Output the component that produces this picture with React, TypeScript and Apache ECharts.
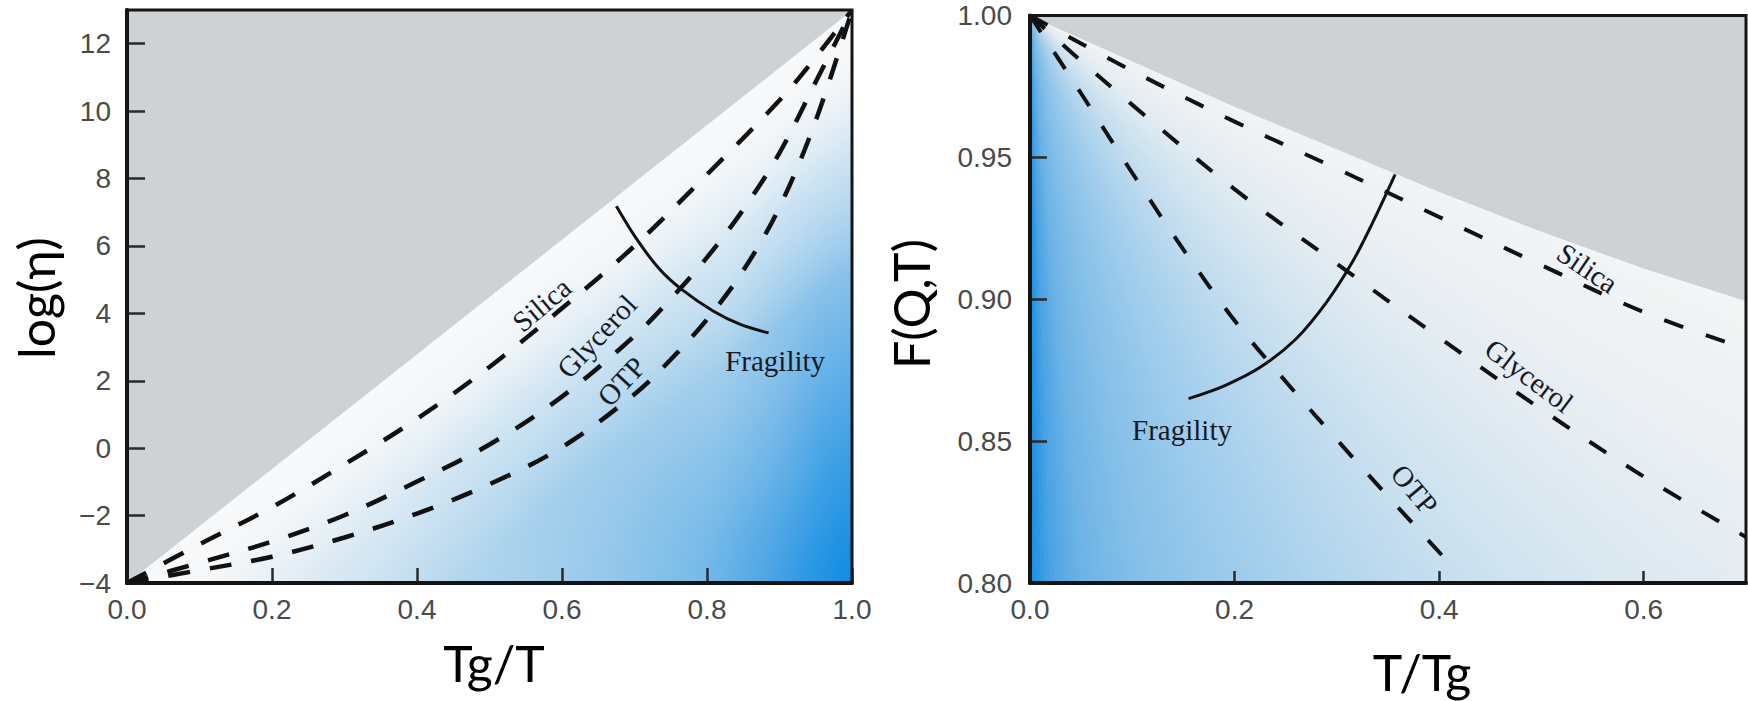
import React, { useEffect, useRef } from "react";
import * as echarts from "echarts";

// ---------- Left panel: log(eta) vs Tg/T ----------
const leftXTicks = [0, 0.2, 0.4, 0.6, 0.8, 1.0];
const leftYTicks = [-4, -2, 0, 2, 4, 6, 8, 10, 12];
const leftYMax = 13;

const leftSilica = [
  [0, -4], [0.1, -2.85], [0.2, -1.75], [0.3, -0.48], [0.4, 0.87], [0.5, 2.41], [0.6, 4.15],
  [0.7, 6.0], [0.8, 8.12], [0.9, 10.32], [0.95, 11.6], [1, 13],
];
const leftGlycerol = [
  [0, -4], [0.1, -3.4], [0.2, -2.77], [0.3, -1.99], [0.4, -0.99], [0.5, 0.11], [0.6, 1.53],
  [0.7, 3.33], [0.75, 4.43], [0.8, 5.66], [0.85, 7.08], [0.9, 8.76], [0.95, 10.87], [1, 13],
];
const leftOTP = [
  [0, -4], [0.1, -3.62], [0.2, -3.22], [0.3, -2.65], [0.4, -1.94], [0.5, -1.07], [0.6, 0.03],
  [0.7, 1.6], [0.75, 2.63], [0.8, 3.82], [0.85, 5.27], [0.9, 7.15], [0.95, 9.72], [1, 13],
];
const leftFragility = [
  [0.675, 7.18], [0.705, 6.14], [0.735, 5.3], [0.765, 4.71], [0.809, 4.06], [0.846, 3.67], [0.885, 3.42],
];
// Arrhenius limit: edge of the grey region
const leftBoundary = [[0, -4], [1, 13]];

const leftAnnotations = [
  { text: "Silica", x: 0.572, y: 4.26, angle: 40 },
  { text: "Glycerol", x: 0.648, y: 3.32, angle: 47 },
  { text: "OTP", x: 0.682, y: 1.98, angle: 47 },
  { text: "Fragility", x: 0.894, y: 2.6, angle: 0 },
];

// ---------- Right panel: F(Q,T) vs T/Tg ----------
const rightXTicks = [0, 0.2, 0.4, 0.6];
const rightXMax = 0.7;
const rightYTicks = [0.8, 0.85, 0.9, 0.95, 1.0];

const rightSilica = [
  [0, 1], [0.1, 0.9805], [0.2, 0.9626], [0.3, 0.946], [0.4, 0.929], [0.5, 0.912], [0.6, 0.8955], [0.7, 0.8825],
];
const rightGlycerol = [
  [0, 1], [0.05, 0.984], [0.1, 0.9685], [0.2, 0.9388], [0.3, 0.9125], [0.4, 0.8865], [0.5, 0.8612],
  [0.6, 0.8375], [0.7, 0.8162],
];
const rightOTP = [
  [0, 1], [0.05, 0.9725], [0.1, 0.9445], [0.15, 0.9175], [0.2, 0.8925], [0.25, 0.871], [0.3, 0.8505],
  [0.35, 0.8305], [0.415, 0.805],
];
const rightFragility = [
  [0.155, 0.865], [0.19, 0.8695], [0.225, 0.876], [0.26, 0.886], [0.29, 0.899], [0.315, 0.913],
  [0.335, 0.927], [0.357, 0.944],
];
const rightBoundary = [
  [0, 1], [0.1, 0.984], [0.2, 0.968], [0.3, 0.953], [0.4, 0.938], [0.5, 0.924], [0.6, 0.911], [0.7, 0.8995],
];

const rightAnnotations = [
  { text: "Silica", x: 0.545, y: 0.911, angle: -34 },
  { text: "Glycerol", x: 0.488, y: 0.873, angle: -37 },
  { text: "OTP", x: 0.376, y: 0.833, angle: -50 },
  { text: "Fragility", x: 0.1486, y: 0.854, angle: 0 },
];

// ---------- styling ----------
const W = 1748;
const H = 701;
const GREY = "#ced2d5";
const tickFont = { fontFamily: '"Liberation Sans", Arial, sans-serif', fontSize: 28, color: "#4a4a4a" };
const annFont = '29px "Liberation Serif", "Times New Roman", serif';
const titleFont = '50px Lato, "Open Sans", sans-serif';

const fanStops = [
  [0, 246, 246, 247], [21.6, 243, 245, 246], [30.7, 236, 240, 243], [38.4, 228, 236, 242],
  [42.7, 220, 233, 241], [47.9, 210, 228, 240], [54.1, 197, 222, 239], [61.6, 178, 213, 238],
  [70.2, 156, 203, 236], [79.8, 130, 190, 232], [84.8, 108, 179, 230], [87.9, 75, 163, 228],
  [90, 22, 142, 226],
];
function fanColor(d: number) {
  for (let i = 0; i < fanStops.length - 1; i++) {
    const a = fanStops[i], b = fanStops[i + 1];
    if (d >= a[0] && d <= b[0]) {
      const t = (d - a[0]) / (b[0] - a[0]);
      const c = [1, 2, 3].map((k) => Math.round(a[k] + (b[k] - a[k]) * t));
      return `rgb(${c[0]},${c[1]},${c[2]})`;
    }
  }
  const l = fanStops[fanStops.length - 1];
  return `rgb(${l[1]},${l[2]},${l[3]})`;
}

function lineSeries(name: string, data: number[][], gi: number, dashed: boolean, width: number, dash: number[]) {
  return {
    name,
    type: "line",
    xAxisIndex: gi,
    yAxisIndex: gi,
    data,
    showSymbol: false,
    symbol: "none",
    smooth: 0.35,
    z: 3,
    silent: true,
    lineStyle: { color: "#111", width, type: dashed ? dash : "solid", cap: "butt" },
  };
}

function axisCommon(gi: number, tickLen: number, margin: number, fmt: (v: number) => string) {
  return {
    gridIndex: gi,
    type: "value",
    axisLine: { show: true, onZero: false, lineStyle: { color: "#111", width: 4 } },
    axisTick: { show: true, inside: true, length: tickLen, lineStyle: { color: "#2a2a2a", width: 2.5 } },
    axisLabel: { ...tickFont, margin, formatter: fmt },
    splitLine: { show: false },
  };
}

function buildOption() {
  const minus = (v: number) => (v < 0 ? "\u2212" + Math.abs(v) : String(v));
  return {
    animation: false,
    backgroundColor: "#ffffff",
    grid: [
      { left: 127, top: 10, width: 725, height: 573, show: true, borderColor: "#151515", borderWidth: 3, backgroundColor: "transparent", z: 10 },
      { left: 1030, top: 15.5, width: 716, height: 567.5, show: true, borderColor: "#151515", borderWidth: 3, backgroundColor: "transparent", z: 10 },
    ],
    xAxis: [
      {
        ...axisCommon(0, 15, 12, (v: number) => v.toFixed(1)),
        min: leftXTicks[0],
        max: leftXTicks[leftXTicks.length - 1],
        interval: leftXTicks[1] - leftXTicks[0],
      },
      {
        ...axisCommon(1, 12, 12, (v: number) => v.toFixed(1)),
        min: rightXTicks[0],
        max: rightXMax,
        interval: rightXTicks[1] - rightXTicks[0],
        axisLabel: { ...tickFont, margin: 12, formatter: (v: number) => v.toFixed(1), showMaxLabel: false },
      },
    ],
    yAxis: [
      {
        ...axisCommon(0, 18, 16, minus),
        min: leftYTicks[0],
        max: leftYMax,
        interval: leftYTicks[1] - leftYTicks[0],
        axisLabel: { ...tickFont, margin: 16, formatter: minus, showMaxLabel: false },
      },
      {
        ...axisCommon(1, 17, 18, (v: number) => v.toFixed(2)),
        min: rightYTicks[0],
        max: rightYTicks[rightYTicks.length - 1],
        interval: 0.05,
      },
    ],
    series: [
      lineSeries("Silica", leftSilica, 0, true, 4.5, [22, 20]),
      lineSeries("Glycerol", leftGlycerol, 0, true, 4.5, [22, 20]),
      lineSeries("OTP", leftOTP, 0, true, 4.5, [22, 20]),
      lineSeries("Fragility", leftFragility, 0, false, 3, []),
      lineSeries("Silica ", rightSilica, 1, true, 4, [20, 24]),
      lineSeries("Glycerol ", rightGlycerol, 1, true, 4, [20, 24]),
      lineSeries("OTP ", rightOTP, 1, true, 4, [20, 24]),
      lineSeries("Fragility ", rightFragility, 1, false, 3, []),
    ],
  };
}

function buildGraphics(chart: any) {
  const L = (x: number, y: number) => chart.convertToPixel({ gridIndex: 0 }, [x, y]) as number[];
  const R = (x: number, y: number) => chart.convertToPixel({ gridIndex: 1 }, [x, y]) as number[];
  const els: any[] = [];

  // ---- left background ----
  const lx0 = leftXTicks[0], lx1 = leftXTicks[leftXTicks.length - 1];
  const ly0 = leftYTicks[0], ly1 = leftYMax;
  const pBL = L(lx0, ly0), pTR = L(lx1, ly1), pBR = L(lx1, ly0), pTL = L(lx0, ly1);
  els.push({
    type: "rect", z: -10, silent: true,
    shape: { x: pBL[0], y: pTR[1], width: pTR[0] - pBL[0], height: pBL[1] - pTR[1] },
    style: {
      fill: {
        type: "radial", x: 1, y: 1, r: 1, colorStops: [
          { offset: 0, color: "rgb(18,140,227)" },
          { offset: 0.05, color: "rgb(45,152,228)" },
          { offset: 0.12, color: "rgb(85,170,230)" },
          { offset: 0.22, color: "rgb(122,188,233)" },
          { offset: 0.35, color: "rgb(152,201,235)" },
          { offset: 0.5, color: "rgb(174,212,237)" },
          { offset: 0.65, color: "rgb(192,220,239)" },
          { offset: 0.8, color: "rgb(208,227,240)" },
          { offset: 0.95, color: "rgb(224,234,242)" },
          { offset: 1, color: "rgb(230,237,243)" },
        ],
      },
    },
  });
  const sx = L(0.8, ly0)[0];
  els.push({
    type: "rect", z: -9, silent: true,
    shape: { x: sx, y: pTR[1], width: pTR[0] - sx, height: pBL[1] - pTR[1] },
    style: {
      fill: {
        type: "radial", x: 1, y: 1, r: 1, colorStops: [
          { offset: 0, color: "rgba(18,140,227,0.9)" },
          { offset: 0.3, color: "rgba(40,150,228,0.62)" },
          { offset: 0.6, color: "rgba(70,160,229,0.3)" },
          { offset: 1, color: "rgba(100,175,230,0)" },
        ],
      },
    },
  });
  const diagA = L(leftBoundary[0][0], leftBoundary[0][1]);
  const diagB = L(leftBoundary[1][0], leftBoundary[1][1]);
  els.push({
    type: "polygon", z: -8, silent: true,
    shape: { points: [diagA, diagB, pBR] },
    style: {
      fill: {
        type: "linear", x: 0.5, y: 0.5, x2: 1, y2: 1, colorStops: [
          { offset: 0, color: "rgba(248,249,250,1)" },
          { offset: 0.1, color: "rgba(248,249,250,0.9)" },
          { offset: 0.25, color: "rgba(248,249,250,0.4)" },
          { offset: 0.45, color: "rgba(248,249,250,0)" },
          { offset: 1, color: "rgba(248,249,250,0)" },
        ],
      },
    },
  });
  els.push({
    type: "polygon", z: -7, silent: true,
    shape: { points: [diagA, pTL, diagB] },
    style: { fill: GREY, stroke: GREY, lineWidth: 1 },
  });

  // ---- right background: fan from (0,1) ----
  const A = R(rightXTicks[0], 1);
  const BL = R(rightXTicks[0], rightYTicks[0]);
  const BR = R(rightXMax, rightYTicks[0]);
  const TR = R(rightXMax, 1);
  const hit = (deg: number) => {
    const t = (deg * Math.PI) / 180;
    const c = Math.cos(t), s = Math.sin(t);
    if (s > 1e-6) {
      const k = (BL[1] - A[1]) / s;
      const x = A[0] + k * c;
      if (x <= BR[0]) return [x, BL[1]];
    }
    const k = (BR[0] - A[0]) / c;
    return [BR[0], A[1] + k * s];
  };
  const cornerDeg = (Math.atan2(BR[1] - A[1], BR[0] - A[0]) * 180) / Math.PI;
  const step = 0.5;
  for (let d = 0; d < 90; d += step) {
    const d2 = Math.min(90, d + step);
    const pts: number[][] = [A, hit(d)];
    if (d < cornerDeg && d2 > cornerDeg) pts.push(BR);
    pts.push(hit(d2));
    const col = fanColor((d + d2) / 2);
    els.push({ type: "polygon", z: -10, silent: true, shape: { points: pts }, style: { fill: col, stroke: col, lineWidth: 0.8 } });
  }
  const greyPts = [A, TR, ...rightBoundary.slice().reverse().map((p) => R(p[0], p[1]))];
  els.push({ type: "polygon", z: -7, silent: true, shape: { points: greyPts }, style: { fill: GREY, stroke: GREY, lineWidth: 1 } });

  // ---- annotations ----
  const addAnn = (arr: any[], conv: (x: number, y: number) => number[]) => {
    arr.forEach((a) => {
      const p = conv(a.x, a.y);
      els.push({
        type: "text", z: 6, silent: true, x: p[0], y: p[1], rotation: (a.angle * Math.PI) / 180,
        style: {
          text: a.text, font: annFont, fill: "#141926",
          align: "center", verticalAlign: "middle", textAlign: "center", textVerticalAlign: "middle",
        },
      });
    });
  };
  addAnn(leftAnnotations, L);
  addAnn(rightAnnotations, R);

  // ---- axis titles ----
  const title = (text: string, x: number, y: number, rot: number) => ({
    type: "text", z: 6, silent: true, x, y, rotation: rot,
    style: {
      text, font: titleFont, fill: "#000",
      align: "center", verticalAlign: "middle", textAlign: "center", textVerticalAlign: "middle",
    },
  });
  els.push(title("log(\u03b7)", 36, 298, Math.PI / 2));
  els.push(title("Tg/T", 494, 663, 0));
  els.push(title("F(Q,T)", 911, 304, Math.PI / 2));
  els.push(title("T/Tg", 1422, 672, 0));
  return els;
}

export default function App() {
  const ref = useRef<HTMLDivElement>(null);
  useEffect(() => {
    if (!ref.current) return;
    const chart = echarts.init(ref.current, undefined, { renderer: "svg", width: W, height: H });
    chart.setOption(buildOption() as any);
    chart.setOption({ graphic: { elements: buildGraphics(chart) } } as any);
    return () => chart.dispose();
  }, []);
  return <div ref={ref} style={{ position: "fixed", left: 0, top: 0, width: W, height: H, background: "#fff" }} />;
}
